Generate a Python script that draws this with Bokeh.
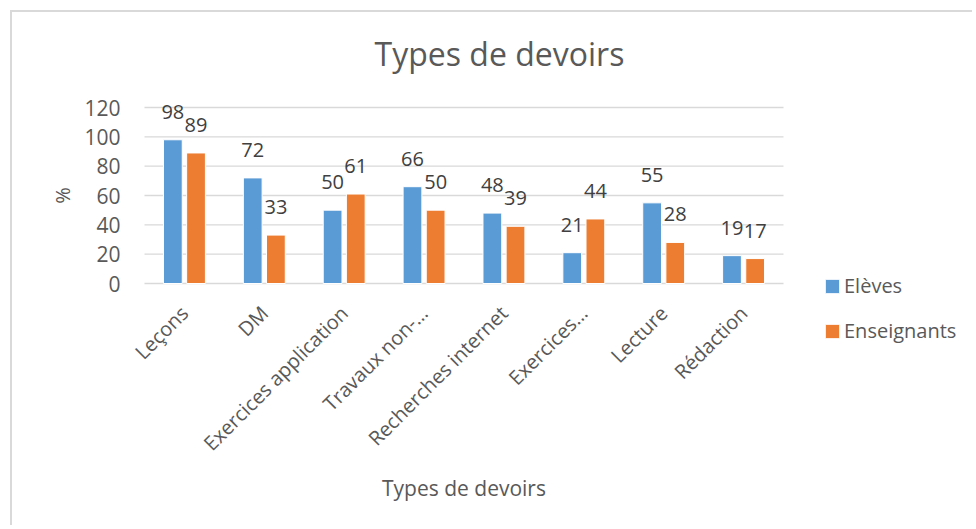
import math
from bokeh.plotting import figure
from bokeh.models import Range1d, LabelSet, Label, Legend, LegendItem, ColumnDataSource, FixedTicker
from bokeh.transform import dodge
from bokeh.core.properties import value
from bokeh.embed import file_html
from bokeh.resources import INLINE

categories = ["Leçons", "DM", "Exercices application", "Travaux non-…",
              "Recherches internet", "Exercices…", "Lecture", "Rédaction"]
eleves = [98, 72, 50, 66, 48, 21, 55, 19]
enseignants = [89, 33, 61, 50, 39, 44, 28, 17]
y_ticks = [0, 20, 40, 60, 80, 100, 120]
series_names = ["Elèves", "Enseignants"]
colors = ["#5B9BD5", "#ED7D31"]
chart_title = "Types de devoirs"
x_title = "Types de devoirs"
y_title = "%"

FONT = "Open Sans"
TXT = "#595959"
GRID = "#d9d9d9"

n = len(categories)
xpos = [i + 0.5 for i in range(n)]

src = ColumnDataSource(dict(
    x=xpos,
    cat=categories,
    eleves=eleves,
    ens=enseignants,
    eleves_s=[str(v) for v in eleves],
    ens_s=[str(v) for v in enseignants],
))

# canvas geometry (pixels); the whole canvas is the plotting frame
W, H = 962, 515
LEFT, TOP, BASE = 132, 95, 271          # x of category start, y of 120, y of 0
PX_PER_CAT = 639 / n
PX_PER_UNIT = (BASE - TOP) / 120
x_start = -LEFT / PX_PER_CAT
x_end = (W - LEFT) / PX_PER_CAT
y_end = 120 + TOP / PX_PER_UNIT
y_start = -(H - BASE) / PX_PER_UNIT

p = figure(x_range=Range1d(x_start, x_end), y_range=Range1d(y_start, y_end),
           width=W, height=H, output_backend="svg", toolbar_location=None,
           title=None,
           min_border_left=0, min_border_right=0,
           min_border_top=0, min_border_bottom=0)
p.styles = {"margin-left": "10px", "margin-top": "10px",
            "border-left": "2px solid #d9d9d9", "border-top": "2px solid #d9d9d9"}
p.outline_line_color = None
p.background_fill_color = "white"
p.border_fill_color = "white"
p.grid.visible = False

# horizontal grid lines over the category span only
p.segment(x0=0, x1=n, y0=y_ticks, y1=y_ticks, line_color=GRID, line_width=1.4)

b1 = p.vbar(x=dodge("x", -0.145), top="eleves", width=0.235,
            source=src, fill_color=colors[0], line_color="white", line_width=1)
b2 = p.vbar(x=dodge("x", 0.145), top="ens", width=0.235,
            source=src, fill_color=colors[1], line_color="white", line_width=1)

for col, off in (("eleves", -0.145), ("ens", 0.145)):
    ls = LabelSet(x=dodge("x", off), y=col, text=col + "_s",
                  source=src, text_align="center", text_baseline="bottom",
                  y_offset=21, text_font=value(FONT), text_font_size=value("20px"),
                  text_color="#404040")
    p.add_layout(ls)

# y axis, fixed at x = 0
p.yaxis.fixed_location = 0
p.yaxis.bounds = (0, 120)
p.yaxis.ticker = FixedTicker(ticks=y_ticks)
p.yaxis.axis_line_color = None
p.yaxis.major_tick_line_color = None
p.yaxis.minor_tick_line_color = None
p.yaxis.major_label_text_font = FONT
p.yaxis.major_label_text_font_size = "21px"
p.yaxis.major_label_text_color = TXT
p.yaxis.major_label_standoff = 18

# x axis, fixed at y = 0
p.xaxis.fixed_location = 0
p.xaxis.bounds = (0, n)
p.xaxis.ticker = FixedTicker(ticks=xpos)
p.xaxis.major_label_overrides = {x: c for x, c in zip(xpos, categories)}
p.xaxis.axis_line_color = None
p.xaxis.major_tick_line_color = None
p.xaxis.minor_tick_line_color = None
p.xaxis.major_label_orientation = math.pi / 4
p.xaxis.major_label_standoff = 20
p.xaxis.major_label_text_font = FONT
p.xaxis.major_label_text_font_size = "20px"
p.xaxis.major_label_text_color = TXT
p.xaxis.axis_label = x_title
p.xaxis.axis_label_text_font = FONT
p.xaxis.axis_label_text_font_size = "21px"
p.xaxis.axis_label_text_font_style = "normal"
p.xaxis.axis_label_text_color = TXT
p.xaxis.axis_label_standoff = 5

# y axis title, rotated, centred on the 0..120 span
p.add_layout(Label(x=(50 - LEFT) / PX_PER_CAT, y=60, text=y_title, angle=math.pi / 2,
                   text_align="center", text_baseline="middle", text_font=FONT,
                   text_font_size="20px", text_color=TXT))

# chart title
p.add_layout(Label(x=(487 - LEFT) / PX_PER_CAT, y=120 + (TOP - 41) / PX_PER_UNIT,
                   text=chart_title, text_align="center", text_baseline="alphabetic",
                   text_font=FONT, text_font_size="32px", text_color=TXT))

legend = Legend(items=[LegendItem(label=series_names[0], renderers=[b1]),
                       LegendItem(label=series_names[1], renderers=[b2])],
                location=(811, 183), orientation="vertical",
                glyph_width=18, glyph_height=18, label_height=20,
                label_standoff=3, spacing=18, padding=0, margin=0,
                border_line_color=None, background_fill_alpha=0,
                label_text_font=FONT, label_text_font_size="20px",
                label_text_color=TXT)
p.add_layout(legend)

open("out.html", "w").write(file_html(p, INLINE))
